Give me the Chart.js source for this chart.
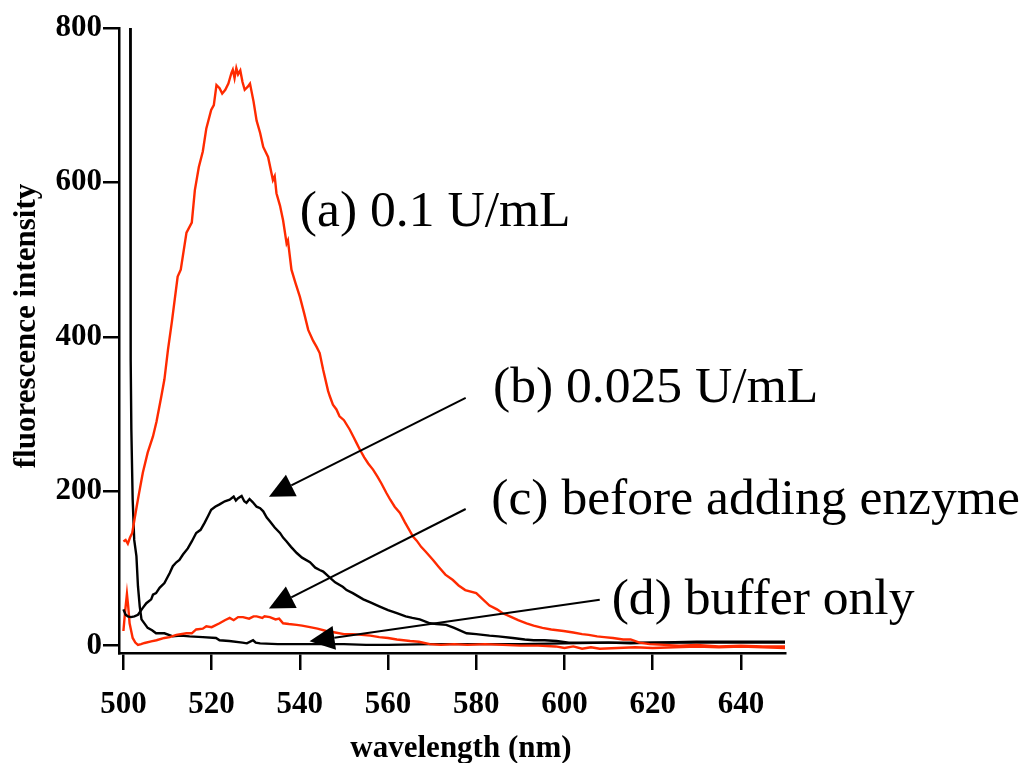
<!DOCTYPE html>
<html>
<head>
<meta charset="utf-8">
<script src="https://cdn.jsdelivr.net/npm/chart.js@4.4.1/dist/chart.umd.min.js"></script>
<style>
  html, body { margin: 0; padding: 0; background: #fff; }
</style>
</head>
<body>
<canvas id="spectra" width="1024" height="763"></canvas>
<script>
// (a) 0.1 U/mL, red
const waveA = [500, 500.5, 501, 501.5, 502, 502.5, 503, 503.5, 504.4, 505.5, 506.7, 507.5, 508.6, 509.3, 510.1, 511, 512.3, 513, 514.3, 515.5, 516.2, 517.1, 518, 518.8, 519.9, 520.5, 521.1, 521.8, 522.4, 523.1, 523.8, 524.5, 524.8, 525.2, 525.6, 526, 526.5, 527, 527.5, 528.2, 528.7, 529.5, 530.2, 531, 531.7, 532.8, 533.9, 534.3, 534.7, 535.5, 536.2, 537, 537.3, 538.1, 539, 540, 541, 541.9, 543, 543.8, 544.5, 545.3, 546.4, 546.8, 547.5, 548.3, 549, 550, 551.3, 552.2, 552.9, 553.6, 554.6, 555.5, 556.6, 557.6, 558.5, 559.6, 560.5, 561.5, 562.7, 563.8, 565.7, 566.5, 567.5, 568.5, 570.2, 571.5, 573, 574.7, 576, 577.5, 580, 581.5, 583, 584.7, 586, 588, 589.5, 591.4, 593, 595, 597, 599.8, 602, 604, 605.5, 607.4, 609, 611, 613.3, 615, 617, 619.3, 622.6, 626, 630, 635, 640, 645, 650];
const valA = [135, 137, 132, 140, 146, 163, 180, 196, 224, 250, 271, 290, 323, 345, 383, 420, 478, 487, 535, 548, 590, 620, 640, 670, 694, 700, 726, 722, 715, 720, 728, 742, 746, 735, 748, 740, 745, 730, 720, 724, 728, 705, 680, 664, 646, 633, 603, 608, 586, 570, 551, 521, 525, 487, 470, 452, 430, 409, 395, 387, 379, 357, 330, 323, 312, 306, 297, 292, 280, 270, 262, 254, 244, 236, 228, 219, 210, 198, 189, 180, 172, 160, 141, 136, 128, 122, 111, 102, 92, 85, 78, 72, 68, 60, 52, 47, 42, 37, 33, 29, 26, 23, 21, 19, 17, 15, 14, 12, 11, 10, 8, 8, 4, 2, 1, 0, 1, -1, 0, -1, -1];

// (b) 0.025 U/mL, black
const waveB = [500, 500.5, 501, 501.7, 502.5, 503.3, 504.4, 505.2, 506.3, 506.7, 507.4, 508.2, 509.3, 510.5, 511.2, 512, 512.7, 513.5, 514.6, 515.5, 516.5, 517.5, 518.4, 519.2, 519.9, 520.8, 521.8, 523, 524.1, 525, 525.5, 526, 526.8, 527.4, 527.9, 528.6, 529.3, 530.2, 531, 531.7, 532.5, 533.2, 534.3, 535.5, 536.2, 537, 538, 539.3, 540.5, 542.3, 543.5, 544.5, 545.3, 546.8, 548, 549.8, 550.6, 552, 554.4, 556, 558, 560, 562, 564, 565.5, 567.2, 569.5, 571, 573.2, 575, 577.8, 580, 583, 585, 588.3, 591, 593, 595.5, 598.2, 601, 605, 610, 615, 620, 625, 630, 635, 640, 645, 650];
const valB = [47, 40, 38, 37, 38, 40, 49, 55, 60, 66, 68, 75, 81, 94, 103, 108, 111, 118, 126, 135, 146, 150, 159, 168, 176, 180, 183, 187, 189, 193, 188, 191, 194, 187, 185, 190, 186, 180, 178, 174, 166, 161, 153, 146, 140, 135, 128, 120, 114, 108, 101, 98, 96, 88, 82, 76, 72, 68, 60, 56, 51, 46, 42, 38, 36, 34, 29, 28, 27, 23, 16, 15, 13, 12, 10, 8, 7, 7, 6, 4, 4, 4, 3, 4, 4, 4, 4, 4, 4, 4];

// (c) before adding enzyme, red
const waveC = [500, 500.4, 500.8, 501.1, 501.4, 502.1, 502.7, 503.3, 504, 504.8, 506.3, 507.5, 509.3, 510.5, 512, 514.3, 515.5, 516.5, 518, 518.8, 520, 521.8, 523, 524.1, 525, 526, 527.1, 528.5, 529.5, 530.2, 531.5, 532, 533.2, 534.5, 535.3, 536.2, 537.5, 539.3, 540.5, 542.3, 544, 546, 548, 550, 552, 554, 556, 558, 560, 562, 565, 567, 569.5, 572, 575, 578, 582, 586, 590, 594, 598, 600, 602, 604, 606, 608, 612, 616, 620, 625, 630, 635, 640, 645, 650];
const valC = [19, 45, 67, 50, 29, 10, 4, 1, 2, 3.5, 5.6, 7, 10, 11, 14, 16, 16, 21, 22, 25, 24, 29, 33, 36, 33, 37, 37, 35, 38, 38, 36, 38, 37, 34, 35, 29, 28, 27, 26, 24, 22, 19, 17, 15, 15, 14, 13, 11, 10, 8, 6, 5, 2, 1, 2, 1, 2, 1, 0, 0, -1, -3, -1, -4, -2, -4, -3, -2, -3, -2, -1, -2, -1, -2, -3];

// (d) buffer only, black (starts far above the top of the axis)
const waveD = [500, 501.5, 501.65, 501.8, 502.1, 502.45, 502.95, 503.3, 503.7, 504.1, 505.5, 506.5, 507.4, 509.3, 511.2, 513, 515, 518, 521, 521.8, 524, 527, 528, 529.4, 530, 531, 535, 540, 545, 550, 555, 560, 570, 580, 590, 600, 610, 620, 630, 640, 650];
const valD = [3000, 1000, 370, 280, 189, 137, 116, 77, 51, 34, 23, 20, 16, 16, 12, 13, 12, 11, 10, 7, 6, 4, 3, 7, 4, 3, 2, 2, 2, 2, 1, 1, 2, 2, 2, 3, 4, 4, 5, 5, 5];

const xTicks = [500, 520, 540, 560, 580, 600, 620, 640];
const yTicks = [0, 200, 400, 600, 800];

const seriesLabels = ['(a) 0.1 U/mL', '(b) 0.025 U/mL', '(c) before adding enzyme', '(d) buffer only'];
const xTitle = 'wavelength (nm)';
const yTitle = 'fluorescence intensity';

const RED = '#ff2a00';
const serif = '"Liberation Serif", "Times New Roman", Times, serif';

function pairs(xs, ys) {
  return xs.map((x, i) => ({ x: x, y: ys[i] }));
}

// text labels and arrows, placed in data units
const notes = [
  { text: seriesLabels[0], x: 540, y: 544 },
  { text: seriesLabels[1], x: 583.8, y: 316 },
  { text: seriesLabels[2], x: 583.4, y: 170 },
  { text: seriesLabels[3], x: 610.7, y: 41 }
];
const arrows = [
  { from: [577.6, 321], to: [533.0, 193] },
  { from: [577.6, 177], to: [533.0, 48] },
  { from: [608.0, 59.5], to: [542.2, 5.6] }
];

const annotate = {
  id: 'annotate',
  afterDatasetsDraw(chart) {
    const ctx = chart.ctx;
    const xs = chart.scales.x, ys = chart.scales.y;
    const area = chart.chartArea;
    ctx.save();
    ctx.fillStyle = '#000';
    ctx.strokeStyle = '#000';
    ctx.lineWidth = 2;
    arrows.forEach(a => {
      const x0 = xs.getPixelForValue(a.from[0]), y0 = ys.getPixelForValue(a.from[1]);
      const x1 = xs.getPixelForValue(a.to[0]), y1 = ys.getPixelForValue(a.to[1]);
      const ang = Math.atan2(y1 - y0, x1 - x0);
      const len = 25, half = 12;
      const bx = x1 - len * Math.cos(ang), by = y1 - len * Math.sin(ang);
      ctx.beginPath();
      ctx.moveTo(x0, y0);
      ctx.lineTo(bx, by);
      ctx.stroke();
      ctx.beginPath();
      ctx.moveTo(x1, y1);
      ctx.lineTo(bx + half * Math.sin(ang), by - half * Math.cos(ang));
      ctx.lineTo(bx - half * Math.sin(ang), by + half * Math.cos(ang));
      ctx.closePath();
      ctx.fill();
    });
    ctx.font = '51.6px ' + serif;
    ctx.textAlign = 'left';
    ctx.textBaseline = 'alphabetic';
    notes.forEach(n => {
      ctx.fillText(n.text, xs.getPixelForValue(n.x), ys.getPixelForValue(n.y));
    });

    // axis titles
    ctx.font = 'bold 31px ' + serif;
    ctx.textAlign = 'center';
    ctx.fillText(xTitle, area.left + 342, area.bottom + 104);
    ctx.save();
    ctx.translate(35, area.top + 298);
    ctx.rotate(-Math.PI / 2);
    ctx.fillText(yTitle, 0, 0);
    ctx.restore();
    ctx.restore();
  }
};

new Chart(document.getElementById('spectra').getContext('2d'), {
  type: 'line',
  data: {
    datasets: [
      { label: seriesLabels[0], data: pairs(waveA, valA), borderColor: RED },
      { label: seriesLabels[1], data: pairs(waveB, valB), borderColor: '#000' },
      { label: seriesLabels[2], data: pairs(waveC, valC), borderColor: RED },
      { label: seriesLabels[3], data: pairs(waveD, valD), borderColor: '#000' }
    ]
  },
  options: {
    responsive: false,
    animation: false,
    parsing: false,
    layout: { padding: { top: 28, right: 239, left: 0, bottom: 0 } },
    elements: {
      line: { borderWidth: 2.4, tension: 0, fill: false },
      point: { radius: 0, hoverRadius: 0 }
    },
    plugins: {
      legend: { display: false },
      tooltip: { enabled: false }
    },
    scales: {
      x: {
        type: 'linear',
        min: 499,
        max: 650,
        afterBuildTicks: s => { s.ticks = xTicks.map(v => ({ value: v })); },
        afterFit: s => { s.height = 110; },
        border: { color: '#000', width: 2.5 },
        grid: { drawOnChartArea: false, drawTicks: true, tickLength: 17, color: '#000', lineWidth: 2.5 },
        ticks: { color: '#000', padding: 16, maxRotation: 0, font: { family: serif, size: 31, weight: 'bold' } },
        title: { display: false }
      },
      y: {
        type: 'linear',
        min: -9.5,
        max: 800,
        afterBuildTicks: s => { s.ticks = yTicks.map(v => ({ value: v })); },
        afterFit: s => { s.width = 119; },
        border: { color: '#000', width: 2.5 },
        grid: { drawOnChartArea: false, drawTicks: true, tickLength: 16, color: '#000', lineWidth: 2.5 },
        ticks: { color: '#000', padding: 1, font: { family: serif, size: 31, weight: 'bold' } },
        title: { display: false }
      }
    }
  },
  plugins: [annotate]
});
</script>
</body>
</html>
